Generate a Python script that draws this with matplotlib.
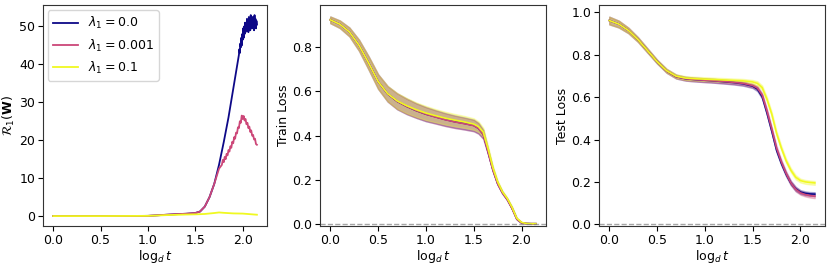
import numpy as np
import matplotlib
matplotlib.use("Agg")
import matplotlib.pyplot as plt

plt.rcParams['font.size'] = 9

cmap = plt.get_cmap('plasma')
colors = [cmap(0.0), cmap(0.5), cmap(1.0)]
labels = [r'$\lambda_1 = 0.0$', r'$\lambda_1 = 0.001$', r'$\lambda_1 = 0.1$']

# --- panel 1: R_1(W) ---
x_r_blue = [0.0, 0.2, 0.4, 0.6, 0.8, 1.0, 1.1, 1.2, 1.3, 1.4, 1.5, 1.55, 1.6, 1.65, 1.7,
            1.75, 1.8, 1.85, 1.9, 1.93,
            1.96, 1.965, 1.97, 1.975, 1.98, 1.985, 1.99, 1.995, 2.0, 2.005, 2.01, 2.015,
            2.02, 2.025, 2.03, 2.035, 2.04, 2.045, 2.05, 2.055, 2.06, 2.065, 2.07, 2.075,
            2.08, 2.085, 2.09, 2.095, 2.1, 2.105, 2.11, 2.115, 2.12, 2.125, 2.13, 2.135,
            2.14, 2.145, 2.15]
r_blue = [0.0, 0.0, 0.0, 0.0, 0.0, 0.05, 0.2, 0.35, 0.5, 0.6, 0.8, 1.2, 2.5, 5.0, 8.5,
          13.5, 19.5, 26.0, 33.5, 38.0,
          42.5, 44.0, 43.0, 45.5, 44.5, 47.0, 45.0, 48.0, 46.5, 49.5, 47.0, 50.0,
          48.0, 51.0, 48.5, 50.5, 49.0, 52.0, 49.5, 51.5, 48.5, 52.5, 50.0, 51.0,
          49.0, 53.0, 50.0, 52.0, 49.5, 52.5, 50.5, 51.5, 49.0, 53.0, 50.0, 52.0,
          49.5, 51.5, 50.5]

x_r_pink = [0.0, 0.2, 0.4, 0.6, 0.8, 1.0, 1.1, 1.2, 1.3, 1.4, 1.5, 1.55, 1.6, 1.65, 1.7,
            1.75, 1.78, 1.79, 1.8, 1.81, 1.82, 1.83, 1.84, 1.85, 1.86, 1.87, 1.88, 1.89,
            1.9, 1.91, 1.92, 1.93, 1.94, 1.95, 1.96, 1.97, 1.98, 1.99, 2.0, 2.01, 2.02,
            2.03, 2.04, 2.05, 2.06, 2.07, 2.08, 2.09, 2.1, 2.11, 2.12, 2.13, 2.14, 2.15]
r_pink = [0.0, 0.0, 0.0, 0.0, 0.0, 0.05, 0.2, 0.35, 0.5, 0.6, 0.8, 1.2, 2.5, 5.0, 8.5,
          12.5, 13.5, 14.8, 14.2, 15.6, 15.0, 16.4, 16.0, 17.4, 17.0, 18.4, 18.0, 19.6,
          19.2, 20.8, 20.4, 22.0, 21.8, 23.4, 23.2, 25.0, 24.6, 26.5, 25.6, 26.4, 25.2,
          25.6, 24.2, 24.6, 23.2, 23.6, 22.2, 22.6, 21.2, 21.4, 20.2, 20.4, 19.0, 18.8]

x_r_yellow = [0.0, 0.5, 1.0, 1.2, 1.4, 1.5, 1.6, 1.7, 1.75, 1.8, 1.9, 2.0, 2.1, 2.15]
r_yellow = [0.0, 0.0, 0.05, 0.25, 0.4, 0.45, 0.55, 0.8, 0.95, 0.85, 0.7, 0.65, 0.45, 0.35]

# --- panels 2 and 3: losses (mean and std per lambda) ---
x_loss = [0.0, 0.1, 0.2, 0.3, 0.4, 0.5, 0.6, 0.7, 0.8, 0.9, 1.0, 1.1, 1.2, 1.3, 1.4, 1.5,
          1.55, 1.6, 1.65, 1.7, 1.75, 1.8, 1.85, 1.9, 1.95, 2.0, 2.05, 2.1, 2.15]

train_yellow = [0.925, 0.905, 0.87, 0.81, 0.73, 0.645, 0.59, 0.557, 0.535, 0.517, 0.502,
                0.49, 0.479, 0.47, 0.462, 0.452, 0.44, 0.415, 0.34, 0.255, 0.19, 0.145,
                0.115, 0.075, 0.025, 0.006, 0.001, 0.0, 0.0]
train_pink = [0.925, 0.905, 0.87, 0.81, 0.73, 0.645, 0.589, 0.555, 0.532, 0.513, 0.497,
              0.484, 0.472, 0.462, 0.454, 0.445, 0.432, 0.404, 0.325, 0.244, 0.181, 0.14,
              0.11, 0.07, 0.021, 0.004, 0.001, 0.0, 0.0]
train_blue = [0.925, 0.905, 0.87, 0.81, 0.73, 0.645, 0.589, 0.555, 0.532, 0.513, 0.497,
              0.485, 0.473, 0.463, 0.455, 0.446, 0.433, 0.406, 0.327, 0.246, 0.183, 0.141,
              0.111, 0.071, 0.022, 0.004, 0.001, 0.0, 0.0]
train_std = [0.015, 0.017, 0.02, 0.025, 0.03, 0.033, 0.035, 0.036, 0.035, 0.033, 0.032,
             0.03, 0.029, 0.028, 0.027, 0.026, 0.024, 0.02, 0.012, 0.008, 0.006, 0.005,
             0.004, 0.004, 0.003, 0.002, 0.001, 0.001, 0.001]

test_yellow = [0.962, 0.945, 0.915, 0.872, 0.82, 0.768, 0.725, 0.699, 0.69, 0.687, 0.685,
               0.683, 0.681, 0.679, 0.677, 0.672, 0.665, 0.645, 0.59, 0.52, 0.43, 0.36,
               0.3, 0.255, 0.222, 0.206, 0.2, 0.197, 0.195]
test_pink = [0.962, 0.945, 0.915, 0.872, 0.82, 0.768, 0.724, 0.697, 0.687, 0.683, 0.68,
             0.677, 0.674, 0.67, 0.665, 0.655, 0.643, 0.61, 0.535, 0.45, 0.36, 0.295,
             0.24, 0.195, 0.165, 0.148, 0.14, 0.135, 0.132]
test_blue = [0.962, 0.945, 0.915, 0.872, 0.82, 0.768, 0.724, 0.697, 0.687, 0.683, 0.68,
             0.677, 0.673, 0.669, 0.663, 0.652, 0.638, 0.602, 0.525, 0.44, 0.35, 0.288,
             0.236, 0.194, 0.167, 0.152, 0.146, 0.143, 0.142]
test_std = [0.018, 0.016, 0.013, 0.011, 0.01, 0.009, 0.009, 0.009, 0.009, 0.009, 0.009,
            0.009, 0.009, 0.009, 0.009, 0.009, 0.01, 0.01, 0.01, 0.01, 0.01, 0.01,
            0.01, 0.01, 0.01, 0.009, 0.009, 0.009, 0.009]

fig = plt.figure(figsize=(8.3, 2.66), dpi=100)
ax1 = fig.add_axes([0.0518, 0.150, 0.270, 0.831])
ax2 = fig.add_axes([0.3855, 0.150, 0.2725, 0.831])
ax3 = fig.add_axes([0.7217, 0.150, 0.2723, 0.831])

# R_1(W)
ax1.plot(x_r_blue, r_blue, color=colors[0], lw=1.3, label=labels[0])
ax1.plot(x_r_pink, r_pink, color=colors[1], lw=1.3, label=labels[1])
ax1.plot(x_r_yellow, r_yellow, color=colors[2], lw=1.3, label=labels[2])
ax1.set_ylabel(r'$\mathcal{R}_1(\mathbf{W})$', labelpad=2)
ax1.set_xlabel(r'$\log_d t$', labelpad=1)
ax1.legend(loc='upper left', borderaxespad=0.4)

def loss_panel(ax, means, std, ylabel, ylim):
    x = np.array(x_loss)
    s = np.array(std)
    for m, c in zip(means, colors):
        m = np.array(m)
        ax.fill_between(x, m - s, m + s, color=c, alpha=0.3)
        ax.plot(x, m, color=c, lw=1.2)
    ax.axhline(0, color='gray', ls='--', alpha=0.7, lw=1)
    ax.set_ylim(*ylim)
    ax.set_ylabel(ylabel, labelpad=2)
    ax.set_xlabel(r'$\log_d t$', labelpad=1)

loss_panel(ax2, [train_blue, train_pink, train_yellow], train_std, 'Train Loss', (-0.011, 0.992))
loss_panel(ax3, [test_blue, test_pink, test_yellow], test_std, 'Test Loss', (-0.009, 1.035))

for ax in (ax1, ax2, ax3):
    ax.set_xlim(-0.1075, 2.2575)
    ax.set_xticks([0.0, 0.5, 1.0, 1.5, 2.0])
    ax.tick_params(pad=2)
    for sp in ax.spines.values():
        sp.set_color('#333333')

ax1.set_ylim(-2.65, 55.65)

fig.savefig('out.png', dpi=100)
